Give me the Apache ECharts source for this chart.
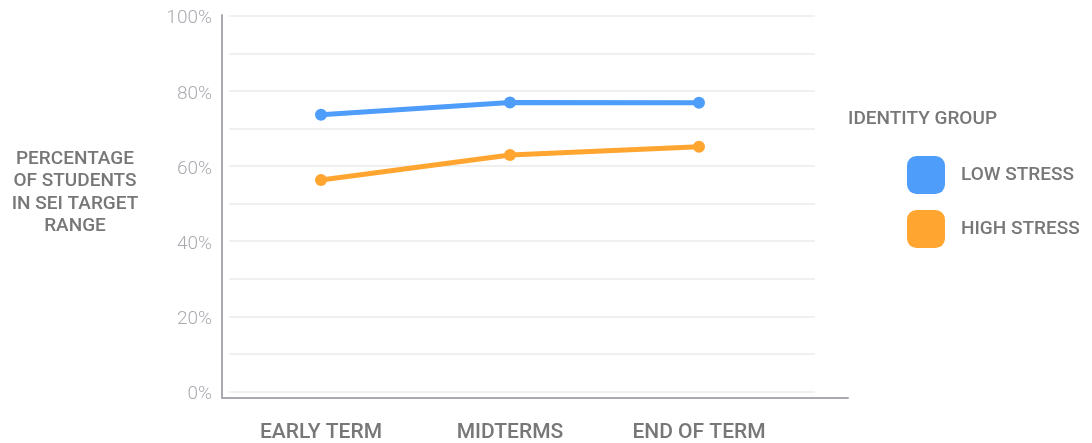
<!DOCTYPE html>
<html><head><meta charset="utf-8">
<script src="https://cdn.jsdelivr.net/npm/echarts@6/dist/echarts.min.js"></script>
<style>html,body{margin:0;padding:0;background:#fff}#c{width:1092px;height:443px}</style>
</head><body><div id="c"></div>
<script>
const categories = ['EARLY TERM', 'MIDTERMS', 'END OF TERM'];
const lowStress = [73.6, 76.9, 76.8];
const highStress = [56.2, 62.9, 65.1];
const seriesNames = ['LOW STRESS', 'HIGH STRESS'];
const yTicks = [0, 20, 40, 60, 80, 100];

const BLUE = '#4f9dfa', ORANGE = '#ffa530';
const FONT = 'Roboto, Liberation Sans, Arial, sans-serif';
const DARK = '#777777';
const chart = echarts.init(document.getElementById('c'), null, {renderer: 'canvas'});
chart.setOption({
  animation: false,
  backgroundColor: '#fff',
  title: [
    {text: 'PERCENTAGE\nOF STUDENTS\nIN SEI TARGET\nRANGE', left: 75, top: 147.5, textAlign: 'center', padding: 0,
     textStyle: {fontFamily: FONT, fontSize: 19, fontWeight: 500, color: DARK, lineHeight: 22.5, align: 'center'}},
    {text: 'IDENTITY GROUP', left: 848, top: 108, padding: 0,
     textStyle: {fontFamily: FONT, fontSize: 19, fontWeight: 500, color: DARK, lineHeight: 22}}
  ],
  legend: {
    orient: 'vertical', left: 907, top: 156, padding: 0, itemWidth: 38, itemHeight: 38, itemGap: 16,
    icon: 'roundRect', data: seriesNames,
    textStyle: {fontFamily: FONT, fontSize: 19, fontWeight: 500, color: DARK, padding: [0, 0, 0, 11]}
  },
  grid: [
    {left: 222, right: 244, top: 15, bottom: 45},
    {left: 229, right: 277, top: 15.7, bottom: 51.5},
    {left: 226.5, right: 298.5, top: 15.7, bottom: 51.5}
  ],
  xAxis: [
    {gridIndex: 0, type: 'value', min: 0, max: 1, axisLine: {show: true, onZero: false, lineStyle: {color: '#a8aab0', width: 2}},
     axisTick: {show: false}, axisLabel: {show: false}, splitLine: {show: false}},
    {gridIndex: 1, type: 'value', min: 0, max: 1, axisLine: {show: false}, axisTick: {show: false}, axisLabel: {show: false}, splitLine: {show: false}},
    {gridIndex: 2, type: 'category', data: categories, boundaryGap: true,
     axisLine: {show: false}, axisTick: {show: false},
     axisLabel: {margin: 31, fontFamily: FONT, fontSize: 21, fontWeight: 500, color: DARK}}
  ],
  yAxis: [
    {gridIndex: 0, type: 'value', min: 0, max: 1, axisLine: {show: true, onZero: false, lineStyle: {color: '#a8aab0', width: 2}},
     axisTick: {show: false}, axisLabel: {show: false}, splitLine: {show: false}},
    {gridIndex: 1, type: 'value', min: 0, max: 100, interval: 10,
     axisLine: {show: false}, axisTick: {show: false},
     axisLabel: {margin: 17, fontFamily: FONT, fontSize: 19, fontWeight: 300, color: '#a9abb0',
       verticalAlign: 'top', lineHeight: 6,
       formatter: v => yTicks.includes(v) ? v + '%' : ''},
     splitLine: {show: true, lineStyle: {color: '#ebebeb', width: 1.5}}},
    {gridIndex: 2, type: 'value', min: 0, max: 100, show: false}
  ],
  series: [
    {name: seriesNames[0], type: 'line', xAxisIndex: 2, yAxisIndex: 2, data: lowStress,
     symbol: 'circle', symbolSize: 12, color: BLUE, lineStyle: {width: 5, color: BLUE}, itemStyle: {color: BLUE}},
    {name: seriesNames[1], type: 'line', xAxisIndex: 2, yAxisIndex: 2, data: highStress,
     symbol: 'circle', symbolSize: 12, color: ORANGE, lineStyle: {width: 5, color: ORANGE}, itemStyle: {color: ORANGE}}
  ]
});
</script></body></html>
